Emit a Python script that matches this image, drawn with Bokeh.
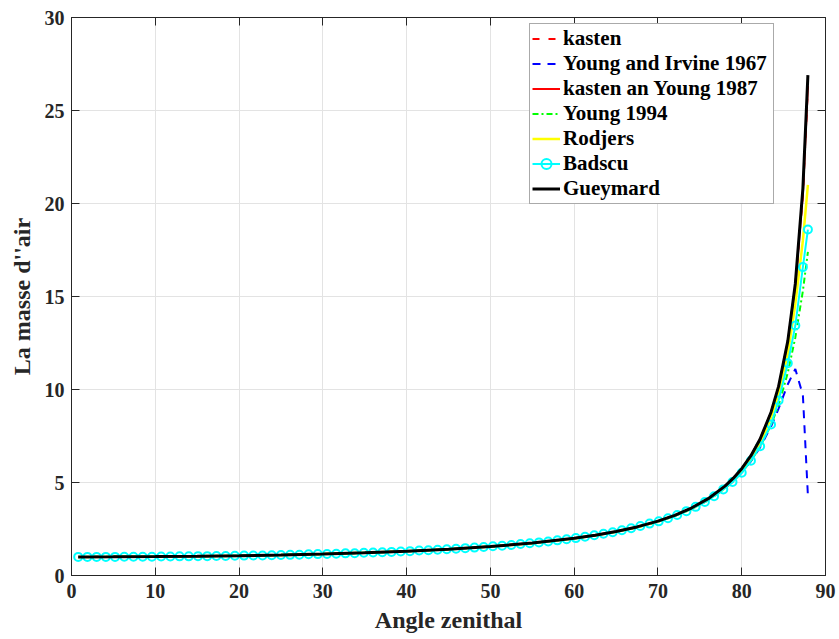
from bokeh.plotting import figure
from bokeh.models import LinearAxis, SingleIntervalTicker, Range1d
from bokeh.embed import file_html
from bokeh.resources import INLINE

# ---------------- data ----------------
ANGLE_LINES = [0.8, 5, 10, 15, 20, 25, 30, 35, 40, 45, 50, 55, 60, 62.5, 65,
               67.5, 70, 72, 74, 76, 78, 79, 80.0, 81.1, 82.2, 83.5, 84.4,
               85.5, 86.4, 87.3, 87.9]

GUEYMARD = [1.00, 1.004, 1.015, 1.035, 1.064, 1.103, 1.155, 1.221, 1.305, 1.414,
            1.555, 1.743, 1.999, 2.165, 2.365, 2.612, 2.922, 3.234, 3.626, 4.130,
            4.803, 5.232, 5.745, 6.44, 7.34, 8.78, 10.17, 12.6, 15.7, 20.8, 26.9]

KASTEN_YOUNG_1987 = [1.00, 1.004, 1.015, 1.035, 1.064, 1.103, 1.155, 1.221, 1.305, 1.414,
                     1.555, 1.743, 1.999, 2.165, 2.365, 2.612, 2.922, 3.234, 3.626, 4.130,
                     4.803, 5.232, 5.745, 6.44, 7.34, 8.76, 10.13, 12.55, 15.6, 20.5, 26.3]

KASTEN = [1.00, 1.004, 1.015, 1.035, 1.064, 1.103, 1.155, 1.221, 1.305, 1.414,
          1.555, 1.743, 1.999, 2.165, 2.365, 2.612, 2.922, 3.234, 3.626, 4.130,
          4.803, 5.232, 5.745, 6.44, 7.34, 8.76, 10.13, 12.55, 15.6, 20.5, 26.3]

RODJERS = [1.00, 1.004, 1.015, 1.035, 1.064, 1.103, 1.154, 1.220, 1.304, 1.413,
           1.553, 1.740, 1.994, 2.158, 2.355, 2.598, 2.902, 3.205, 3.585, 4.070,
           4.705, 5.110, 5.590, 6.25, 7.10, 8.50, 9.78, 11.9, 14.6, 18.0, 21.0]

YOUNG_1994 = [1.00, 1.004, 1.015, 1.035, 1.064, 1.103, 1.154, 1.220, 1.304, 1.412,
              1.552, 1.738, 1.990, 2.152, 2.348, 2.588, 2.890, 3.197, 3.572, 4.051,
              4.681, 5.075, 5.541, 6.16, 6.93, 8.10, 9.15, 10.9, 12.8, 15.3, 17.4]

YOUNG_IRVINE_1967 = [1.00, 1.004, 1.015, 1.035, 1.064, 1.103, 1.154, 1.220, 1.304, 1.412,
                     1.552, 1.739, 1.991, 2.154, 2.351, 2.594, 2.897, 3.199, 3.575, 4.054,
                     4.683, 5.074, 5.54, 6.14, 6.90, 8.01, 8.97, 10.28, 11.1, 9.7, 4.3]

BADSCU_ANGLE = [0.8, 1.9, 3.0, 4.1, 5.2, 6.3, 7.4, 8.5, 9.6, 10.7,
                11.8, 12.9, 14.0, 15.1, 16.2, 17.3, 18.4, 19.5, 20.6, 21.7,
                22.8, 23.9, 25.0, 26.1, 27.2, 28.3, 29.4, 30.5, 31.6, 32.7,
                33.8, 34.9, 36.0, 37.1, 38.2, 39.3, 40.4, 41.5, 42.6, 43.7,
                44.8, 45.9, 47.0, 48.1, 49.2, 50.3, 51.4, 52.5, 53.6, 54.7,
                55.8, 56.9, 58.0, 59.1, 60.2, 61.3, 62.4, 63.5, 64.6, 65.7,
                66.8, 67.9, 69.0, 70.1, 71.2, 72.3, 73.4, 74.5, 75.6, 76.7,
                77.8, 78.9, 80.0, 81.1, 82.2, 83.5, 84.4, 85.5, 86.4, 87.3, 87.9]

BADSCU = [1.00, 1.00, 1.00, 1.00, 1.00, 1.01, 1.01, 1.01, 1.01, 1.02,
          1.02, 1.03, 1.03, 1.04, 1.04, 1.05, 1.05, 1.06, 1.07, 1.08,
          1.08, 1.09, 1.10, 1.11, 1.12, 1.14, 1.15, 1.16, 1.17, 1.19,
          1.20, 1.22, 1.24, 1.25, 1.27, 1.29, 1.31, 1.34, 1.36, 1.38,
          1.41, 1.44, 1.47, 1.50, 1.53, 1.57, 1.60, 1.64, 1.69, 1.73,
          1.78, 1.83, 1.89, 1.95, 2.01, 2.08, 2.16, 2.24, 2.33, 2.43,
          2.54, 2.66, 2.79, 2.91, 3.08, 3.25, 3.46, 3.69, 3.95, 4.26,
          4.63, 5.03, 5.52, 6.17, 6.95, 8.12, 9.41, 11.41, 13.44, 16.58, 18.6]

X_TICK_STEP = 10
Y_TICK_STEP = 5

FONT = "Liberation Serif"
AX_COLOR = "#262626"

p = figure(width=839, height=639, output_backend="svg", toolbar_location=None,
           x_range=Range1d(0, 90), y_range=Range1d(0, 30),
           min_border_left=71, min_border_right=14, min_border_top=17,
           min_border_bottom=64, background_fill_color="white",
           border_fill_color="white")

p.outline_line_color = AX_COLOR
p.outline_line_width = 1

# bottom / left axes
p.xaxis.ticker = SingleIntervalTicker(interval=X_TICK_STEP, num_minor_ticks=0)
p.yaxis.ticker = SingleIntervalTicker(interval=Y_TICK_STEP, num_minor_ticks=0)
p.xgrid.ticker = SingleIntervalTicker(interval=X_TICK_STEP, num_minor_ticks=0)
p.ygrid.ticker = SingleIntervalTicker(interval=Y_TICK_STEP, num_minor_ticks=0)
p.xaxis.axis_label = "Angle zenithal"
p.yaxis.axis_label = "La masse d''air"

for ax in (p.xaxis[0], p.yaxis[0]):
    ax.axis_line_color = AX_COLOR
    ax.major_tick_line_color = AX_COLOR
    ax.major_tick_in = 8
    ax.major_tick_out = 0
    ax.minor_tick_line_color = None
    ax.major_label_text_font = FONT
    ax.major_label_text_font_style = "bold"
    ax.major_label_text_font_size = "20px"
    ax.major_label_text_color = AX_COLOR
    ax.axis_label_text_font = FONT
    ax.axis_label_text_font_style = "bold"
    ax.axis_label_text_font_size = "24px"
    ax.axis_label_text_color = AX_COLOR
p.xaxis[0].major_label_standoff = 8
p.xaxis[0].axis_label_standoff = 6
p.yaxis[0].major_label_standoff = 7
p.yaxis[0].axis_label_standoff = 7

for g in (p.xgrid[0], p.ygrid[0]):
    g.grid_line_color = "#e3e3e3"
    g.grid_line_width = 1

# right / top axes: inward ticks only, no labels drawn
right_ax = LinearAxis(ticker=SingleIntervalTicker(interval=Y_TICK_STEP, num_minor_ticks=0))
top_ax = LinearAxis(ticker=SingleIntervalTicker(interval=X_TICK_STEP, num_minor_ticks=0))
for ax in (right_ax, top_ax):
    ax.axis_line_color = AX_COLOR
    ax.major_tick_line_color = AX_COLOR
    ax.major_tick_in = 8
    ax.major_tick_out = 0
    ax.minor_tick_line_color = None
    ax.major_label_text_color = None
    ax.major_label_text_font_size = "1px"
    ax.major_label_standoff = 0
    ax.axis_label = None
p.add_layout(right_ax, "right")
p.add_layout(top_ax, "above")

# ---------------- series ----------------
p.line(ANGLE_LINES, KASTEN, line_color="#ff0000", line_width=2, line_dash="7 9",
       legend_label="kasten")
p.line(ANGLE_LINES, YOUNG_IRVINE_1967, line_color="#0000ff", line_width=2, line_dash="8 7",
       legend_label="Young and Irvine 1967")
p.line(ANGLE_LINES, KASTEN_YOUNG_1987, line_color="#ff0000", line_width=2,
       legend_label="kasten an Young 1987")
p.line(ANGLE_LINES, YOUNG_1994, line_color="#00ff00", line_width=2, line_dash="6 3 2 3",
       legend_label="Young 1994")
p.line(ANGLE_LINES, RODJERS, line_color="#ffff00", line_width=2.5,
       legend_label="Rodjers")
p.line(BADSCU_ANGLE, BADSCU, line_color="#00ffff", line_width=2, legend_label="Badscu")
p.scatter(BADSCU_ANGLE, BADSCU, marker="circle", size=8, line_color="#00ffff",
          line_width=2, fill_color=None, legend_label="Badscu")
p.line(ANGLE_LINES, GUEYMARD, line_color="#000000", line_width=3,
       legend_label="Gueymard")

lg = p.legend[0]
lg.location = (458, 371)
lg.label_text_font = FONT
lg.label_text_font_style = "bold"
lg.label_text_font_size = "21px"
lg.label_text_color = "#000000"
lg.glyph_width = 28
lg.glyph_height = 25
lg.label_height = 25
lg.label_width = 208
lg.label_standoff = 3
lg.spacing = 0
lg.padding = 2
lg.margin = 0
lg.border_line_color = "#555555"
lg.border_line_width = 1
lg.background_fill_color = "white"
lg.background_fill_alpha = 1.0

open("out.html", "w").write(file_html(p, INLINE))
